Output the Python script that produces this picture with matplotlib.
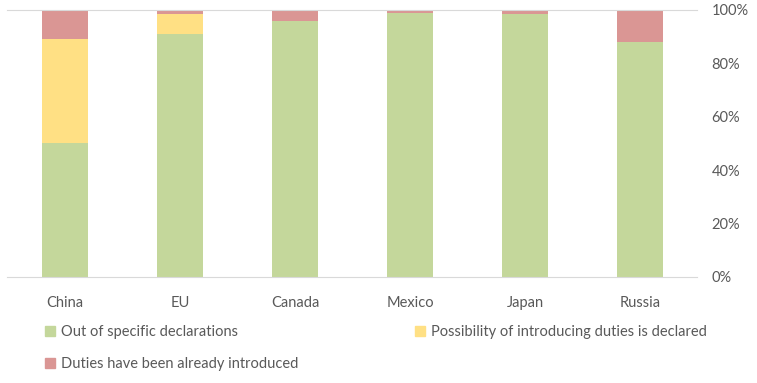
import matplotlib.pyplot as plt
import numpy as np
from matplotlib.patches import Patch

plt.rcParams['font.family'] = ['Lato', 'DejaVu Sans']

countries = ["China", "EU", "Canada", "Mexico", "Japan", "Russia"]
out_of_decl = [50, 91, 96, 99, 98.5, 88]
possibility = [39, 7.5, 0, 0, 0, 0]
introduced = [11, 1.5, 4, 1, 1.5, 12]

green = "#C4D79B"
yellow = "#FFE084"
red = "#DA9694"
txt = "#595959"

fig = plt.figure(figsize=(7.57, 3.83), dpi=100)
ax = fig.add_axes([0.0099, 0.2768, 0.9115, 0.6971])

x = np.arange(len(countries))
w = 0.4
b1 = ax.bar(x, out_of_decl, w, color=green, label="Out of specific declarations")
b2 = ax.bar(x, possibility, w, bottom=out_of_decl, color=yellow,
            label="Possibility of introducing duties is declared")
bot = np.array(out_of_decl) + np.array(possibility)
b3 = ax.bar(x, introduced, w, bottom=bot, color=red, label="Duties have been already introduced")

ax.set_xlim(-0.5, len(countries) - 0.5)
ax.set_ylim(0, 100)
ax.set_yticks(range(0, 101, 20))
ax.set_yticklabels([f"{v}%" for v in range(0, 101, 20)])
ax.yaxis.tick_right()
ax.set_xticks(x)
ax.set_xticklabels(countries)
ax.tick_params(axis='both', length=0, colors=txt, labelsize=10.5)
ax.tick_params(axis='x', pad=14)
ax.tick_params(axis='y', pad=10)
for s in ["left", "right"]:
    ax.spines[s].set_visible(False)
ax.spines["top"].set_color("#D9D9D9")
ax.spines["bottom"].set_color("#D9D9D9")

handles = [Patch(color=green), Patch(color=red), Patch(color=yellow)]
labels = ["Out of specific declarations", "Duties have been already introduced",
          "Possibility of introducing duties is declared"]
leg = fig.legend(handles, labels, ncol=2, loc="upper left", bbox_to_anchor=(0.0595, 0.152),
                 frameon=False, fontsize=10.5, handlelength=0.7, handleheight=0.7,
                 handletextpad=0.4, columnspacing=8.0, labelspacing=1.25, borderpad=0,
                 borderaxespad=0)
for t in leg.get_texts():
    t.set_color(txt)

fig.savefig("out.png", dpi=100)
